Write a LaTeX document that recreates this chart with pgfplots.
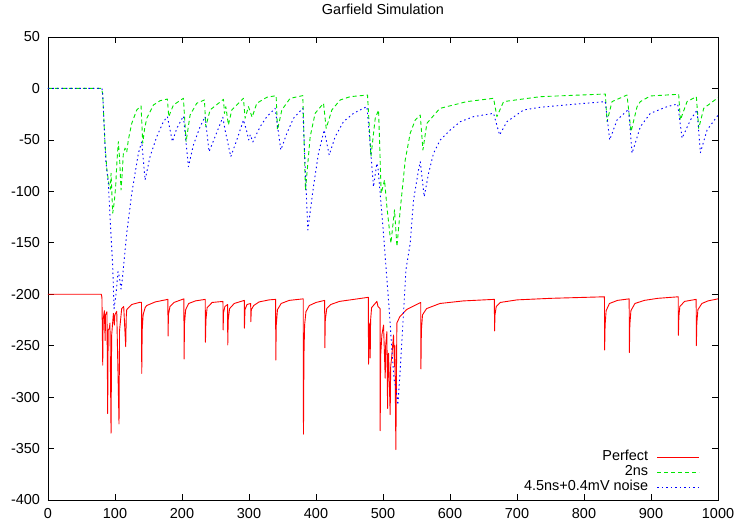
\documentclass[border=0pt]{standalone}
\usepackage{fontspec}
\setmainfont{Liberation Sans}
\usepackage{pgfplots}
\pgfplotsset{compat=1.18}
\definecolor{gpred}{RGB}{255,0,0}
\definecolor{gpgreen}{RGB}{0,230,0}
\definecolor{gpblue}{RGB}{0,0,255}
\begin{document}
\begin{tikzpicture}
\useasboundingbox (-48bp,-22bp) rectangle (691bp,500bp);
\begin{axis}[
  scale only axis, width=670bp, height=463bp,
  xmin=0, xmax=1000, ymin=-400, ymax=50,
  xtick={0,100,...,1000}, ytick={-400,-350,...,50},
  minor tick num=0,
  major tick length=6bp,
  tick style={black, line width=0.7bp},
  axis line style={black, line width=0.8bp},
  /pgf/number format/assume math mode=true,
  /pgf/number format/1000 sep={},
  tick label style={font=\fontsize{14.5}{17}\selectfont},
  yticklabel style={xshift=-4.5bp},
  xticklabel style={yshift=-5bp},
  title={Garfield Simulation},
  title style={font=\fontsize{14.5}{17}\selectfont, at={(0.5,1)}, anchor=base, yshift=17bp},
  legend plot pos=right,
  legend cell align=right,
  legend style={draw=none, fill=none, at={(1,0)}, anchor=south east,
    xshift=-18bp, yshift=4.8bp, inner sep=0pt, row sep=0pt, column sep=8.7bp,
    font=\fontsize{14.5}{17}\selectfont,
    nodes={inner sep=0pt, text height=10.5bp, text depth=4.5bp}},
  legend image code/.code={\draw[#1] (0bp,0bp) -- (42bp,0bp);},
  every axis plot/.append style={line width=0.9bp, line join=round},
]
\addplot[gpred, solid] coordinates {
(0,-200) (79.5,-200) (80.5,-203) (81.7,-269) (82.3,-225) (84.1,-216) (85.3,-245) (85.9,-220) (88,-217)
(89.1,-316) (89.8,-235) (91.6,-233) (92.5,-228) (94.1,-335) (95,-240) (97.6,-218.6) (99,-230) (99.8,-220)
(102.6,-216.6) (106,-326) (106.8,-235) (110,-214) (113,-212) (116,-251) (116.8,-222) (117.5,-215)
(125,-210) (137.4,-207.8) (139.6,-208) (139.9,-277) (140.6,-235) (142,-220) (145,-213) (147.3,-211)
(160,-207.5) (178.9,-205) (179.2,-240.6) (179.8,-220) (182,-212) (188,-208) (202.8,-204.5) (203.1,-263)
(203.8,-228) (205.5,-215) (210,-209) (220,-206.5) (234.7,-205) (235,-246.7) (235.7,-225) (237.5,-213)
(245,-208) (261.1,-207) (261.4,-234.7) (262,-218) (264,-212) (268,-210) (268.3,-249.3) (269,-225)
(271,-214) (278,-209) (293,-206) (293.2,-233) (294,-215) (297,-210) (302.5,-209) (302.7,-226.7)
(303.5,-215) (307,-211) (315,-207.5) (330,-205.5) (339.7,-205) (340,-264) (340.7,-230) (342.5,-215)
(348,-209) (360,-206) (380.9,-204.5) (381.3,-336) (382,-260) (383,-230) (385,-217) (390,-211)
(400,-208) (412.9,-206) (413.2,-252) (413.9,-225) (416,-214) (422,-210) (435,-207) (478.1,-203)
(478.4,-268) (479.5,-228) (480.9,-262) (481.5,-225) (483,-213) (490.9,-207) (492.5,-212) (495.6,-214)
(495.8,-332.6) (496.5,-260) (498.3,-239.6) (500.8,-230) (503.3,-281.7) (504,-250) (505.8,-236.4)
(506.8,-311) (507.5,-260) (508.3,-257.4) (510.7,-317) (511.5,-270) (513.3,-259) (515.7,-239.6)
(517.2,-270.4) (517.8,-250) (519.2,-351) (520.7,-228) (525,-222) (535,-215) (550,-210) (556.3,-208)
(556.6,-272.6) (557.3,-235) (559,-220) (565,-214) (585,-209) (620,-206.5) (666.2,-205) (666.5,-235.7)
(667.2,-220) (669,-212) (675,-208) (700,-205.5) (750,-204) (830.5,-202.5) (830.8,-254.2) (831.5,-230)
(833,-216) (838,-209) (850,-206) (867.4,-204.5) (867.7,-256.8) (868.4,-230) (870,-216) (876,-209)
(890,-206) (910,-204) (940.6,-202.5) (940.9,-240) (941.6,-222) (943,-212) (950,-207) (967.4,-205)
(967.7,-250) (968.4,-228) (970,-215) (976,-209) (985,-206.5) (1000,-204.5)
};
\addlegendentry{Perfect}
\addplot[gpgreen, dash pattern=on 4bp off 3bp] coordinates {
(0,0) (80,0) (81.7,-6) (83,-25) (85.2,-55) (88,-80) (91.6,-95.5) (93,-98) (94.1,-82.5) (96.6,-121.3)
(99,-110) (101,-95) (103,-70) (105,-51.7) (107,-70) (109,-98.7) (110.5,-85) (112.5,-63) (115,-58)
(117.5,-62) (119.9,-50) (125,-34) (132.4,-21) (138.9,-17) (141.4,-53.3) (144,-40) (147.4,-29)
(157.3,-16.1) (167.3,-11.9) (178.2,-10.3) (180.2,-27.4) (187.2,-16.1) (202.1,-9.6) (206.1,-51.7)
(212.1,-25.8) (222,-14.4) (233.5,-11.2) (235.5,-37.2) (241.9,-20.9) (261.9,-10.6) (263.4,-24.2)
(265.4,-17.7) (269.3,-35.5) (274.3,-20.9) (291.7,-9.6) (294.2,-29) (299.2,-17.7) (304.7,-28)
(311.6,-14.4) (326.6,-8.6) (340.5,-7) (342.5,-40.4) (349,-20.9) (361.4,-9.6) (380.3,-7) (384.3,-98.7)
(391.3,-46.9) (398.7,-24.2) (411.2,-14.4) (415.2,-38.8) (423.7,-20.9) (436.1,-11.2) (451,-8)
(476.9,-6.4) (482,-66.3) (488.4,-29) (493.4,-21) (497.3,-102) (502.3,-89) (505.8,-115) (511.8,-150.5)
(517.2,-118) (520.8,-153.8) (525.7,-118) (533.2,-69.5) (540.6,-43.6) (548.1,-30.7) (555.6,-25.8)
(559.6,-59.8) (565.5,-33.9) (580.5,-22.6) (585.4,-19.3) (625.2,-12.8) (665,-9.6) (670,-27.4)
(680,-12.8) (734.8,-8) (831.8,-5.4) (834.4,-32.3) (841.8,-12.8) (864.2,-6.4) (870.2,-42) (879.2,-17.7)
(884.1,-12.8) (899,-7.3) (941.3,-5.7) (943.8,-30.7) (953.8,-12.8) (967.7,-8) (971.2,-38.8)
(978.7,-19.3) (1000,-9)
};
\addlegendentry{2ns}
\addplot[gpblue, dash pattern=on 1.5bp off 3bp] coordinates {
(0,0) (80.5,0) (81.7,-6) (86.1,-69.5) (90,-92.2) (92.6,-124.6) (96.6,-173.2) (98.6,-214) (101.5,-200)
(104.5,-178) (106.5,-183) (109,-195) (111,-185) (117.5,-140.8) (125,-102) (134.9,-63) (139.9,-51.7)
(144.9,-89) (152.3,-66.3) (162.3,-46.9) (172.2,-32.3) (178.2,-27.4) (185.7,-51.7) (192.2,-38.8)
(202.1,-26.8) (209.6,-76) (217,-55) (227,-37.2) (234.5,-27.4) (240.4,-61.5) (249.4,-46.9) (260.9,-28)
(264.3,-40.4) (272.8,-66.3) (281.8,-50.1) (291.7,-30.7) (296,-40) (299.5,-50) (302,-45) (305.7,-52)
(316.6,-37.2) (326.6,-27.4) (339,-19.3) (347.5,-59.8) (356.5,-43.6) (366.4,-29) (380.3,-19.3)
(387.8,-137.6) (396.2,-95.5) (403.7,-63) (412.2,-40.4) (419.7,-64.7) (428.6,-46.9) (441,-32.3)
(456,-24.2) (476,-17.7) (479.9,-46.9) (485.8,-95.5) (490.8,-72.8) (492.8,-79) (500.3,-137.6)
(504.8,-176.4) (509.3,-215.3) (513.7,-259) (516.7,-283.3) (519.7,-293) (522.2,-307.6) (525.7,-273.6)
(530.6,-218.5) (534.2,-176.4) (540.6,-150.5) (545.6,-108.4) (553,-79.3) (555.6,-71.2) (561.5,-105.2)
(568,-82.5) (575.4,-63) (585.4,-50.1) (600.4,-40.4) (615.3,-32.3) (635.2,-27.4) (665,-24.2) (674,-45.2)
(685,-32.3) (709.8,-20.9) (734.8,-18.3) (784.5,-15.4) (831.8,-12.8) (838.3,-50.1) (849.3,-30.7)
(866.6,-20.3) (871.7,-63) (884.1,-37.2) (899,-24.2) (924,-17.7) (939.8,-15.1) (946.4,-48.4)
(958.8,-30.7) (968.7,-21) (973.7,-62.4) (983.7,-40.4) (1000,-26)
};
\addlegendentry{4.5ns+0.4mV noise}
\end{axis}
\end{tikzpicture}
\end{document}
